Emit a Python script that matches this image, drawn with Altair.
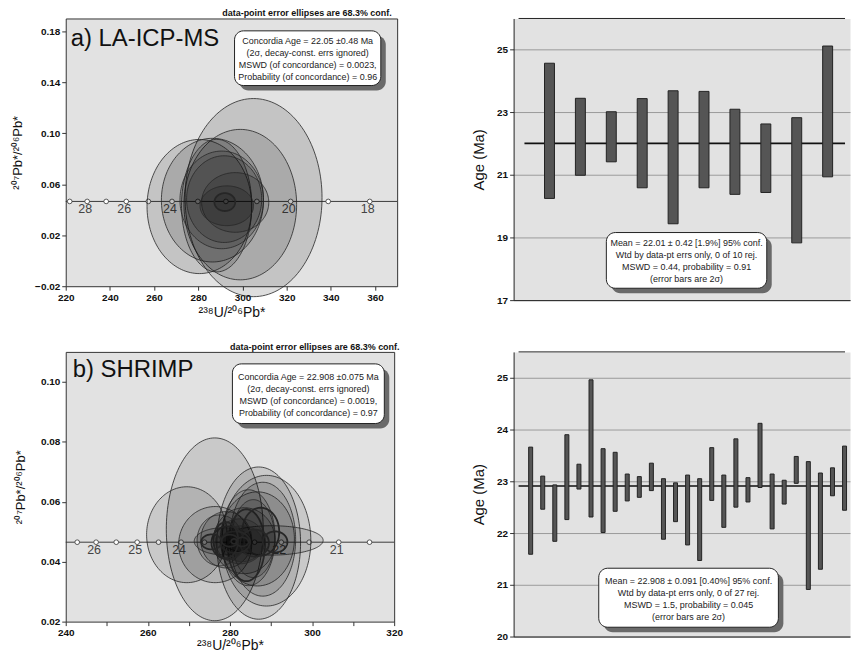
import altair as alt
import pandas as pd

FONT = "Liberation Sans"
BG = "#e2e2e2"

# ---------------- (a) LA-ICP-MS : error ellipses (centre, semi-axes) ----------------
a_cx = [305.0, 299.0, 280.5, 286.4, 288.3, 290.6, 291.7, 296.7, 292.9, 292.0]
a_cy = [0.0495, 0.0440, 0.0425, 0.0475, 0.0432, 0.0477, 0.0483, 0.0457, 0.0431, 0.0460]
a_rx = [31.0, 25.5, 23.7, 23.1, 15.9, 18.9, 17.0, 15.2, 12.1, 4.7]
a_ry = [0.0777, 0.0590, 0.0526, 0.0485, 0.0520, 0.0383, 0.0340, 0.0234, 0.0156, 0.0070]

# concordia age markers (Ma) and their 238U/206Pb positions
conc_y = 0.0465
a_ages = [29, 28, 27, 26, 25, 24, 23, 22, 21, 20, 19, 18]
a_age_x = [221.8, 229.7, 238.3, 247.4, 257.4, 268.1, 279.8, 292.5, 306.5, 321.8, 338.8, 357.6]
a_labelled = [28, 26, 24, 20, 18]

# ---------------- (b) SHRIMP : error ellipses ----------------
b_cx = [276.3, 269.5, 287.0, 288.9, 276.4, 286.7, 290.2, 288.0, 284.5, 283.5, 279.1, 278.3, 285.7,
        284.0, 277.5, 287.5, 282.5, 283.0, 279.5, 286.0, 281.3, 291.0, 279.0, 275.5, 280.0, 283.0, 281.0]
b_cy = [0.0508, 0.0490, 0.0462, 0.0470, 0.0457, 0.0476, 0.0471, 0.0475, 0.0480, 0.0470, 0.0473, 0.0468, 0.0477,
        0.0455, 0.0471, 0.0500, 0.0468, 0.0460, 0.0463, 0.0462, 0.0465, 0.0466, 0.0472, 0.0466, 0.0470, 0.0466, 0.0468]
b_rx = [11.8, 9.8, 10.2, 10.8, 8.9, 9.0, 12.5, 8.0, 6.5, 7.5, 6.2, 7.0, 5.2,
        4.5, 5.5, 4.5, 6.0, 5.0, 4.0, 3.5, 3.6, 3.0, 3.0, 2.5, 2.0, 1.5, 0.7]
b_ry = [0.0305, 0.0160, 0.0254, 0.0218, 0.0127, 0.0157, 0.0049, 0.0190, 0.0160, 0.0110, 0.0094, 0.0045, 0.0130,
        0.0120, 0.0085, 0.0080, 0.0075, 0.0060, 0.0055, 0.0045, 0.0036, 0.0035, 0.0060, 0.0025, 0.0020, 0.0015, 0.0008]

b_ages = [26.5, 26, 25.5, 25, 24.5, 24, 23.5, 23, 22.5, 22, 21.5, 21, 20.5]
b_age_x = [242.8, 247.4, 252.3, 257.4, 262.6, 268.1, 273.8, 279.8, 286.0, 292.5, 299.3, 306.5, 314.0]
b_labelled = [26, 25, 24, 22, 21]

# ---------------- weighted-mean age bars (2 sigma) ----------------
ar_lo = [20.25, 20.99, 21.42, 20.59, 19.44, 20.59, 20.38, 20.44, 18.83, 20.94]
ar_hi = [24.57, 23.45, 23.02, 23.44, 23.69, 23.67, 23.10, 22.63, 22.83, 25.12]
ar_mean = 22.01

br_lo = [21.59, 22.46, 21.84, 22.26, 22.85, 22.31, 22.01, 22.42, 22.62, 22.69, 22.82, 21.88, 22.22, 21.77,
         21.47, 22.63, 22.11, 22.50, 22.60, 22.88, 22.08, 22.56, 22.96, 20.91, 21.30, 22.72, 22.44]
br_hi = [23.66, 23.10, 22.93, 23.90, 23.33, 24.96, 23.63, 23.56, 23.14, 23.09, 23.35, 23.05, 22.97, 23.12,
         23.05, 23.65, 23.12, 23.82, 23.07, 24.12, 23.14, 23.02, 23.48, 23.38, 23.16, 23.26, 23.68]
br_mean = 22.908

# ---------------- texts ----------------
ell_note = "data-point error ellipses are 68.3% conf."
a_title = "a) LA-ICP-MS"
b_title = "b) SHRIMP"
box_a = ["Concordia Age = 22.05 \u00b10.48 Ma", "(2\u03c3, decay-const. errs ignored)",
         "MSWD (of concordance) = 0.0023,", "Probability (of concordance) = 0.96"]
box_b = ["Concordia Age = 22.908 \u00b10.075 Ma", "(2\u03c3, decay-const. errs ignored)",
         "MSWD (of concordance) = 0.0019,", "Probability (of concordance) = 0.97"]
box_ar = ["Mean = 22.01 \u00b1 0.42  [1.9%]  95% conf.", "Wtd by data-pt errs only, 0 of 10 rej.",
          "MSWD = 0.44, probability = 0.91", "(error bars are 2\u03c3)"]
box_br = ["Mean = 22.908 \u00b1 0.091  [0.40%]  95% conf.", "Wtd by data-pt errs only, 0 of 27 rej.",
          "MSWD = 1.5, probability = 0.045", "(error bars are 2\u03c3)"]
# text-box corners (data coordinates of each panel)
box_a_xy = [296.4, 362.6, 0.1803, 0.1374]
box_b_xy = [280.6, 317.6, 0.1060, 0.0861]
box_ar_xy = [2.84, 8.03, 19.16, 17.38]
box_br_xy = [6.64, 21.52, 21.32, 20.18]

ytitle_iso = "\u00b2\u2070\u2077Pb*/\u00b2\u2070\u2076Pb*"
xtitle_iso = "\u00b2\u00b3\u2078U/\u00b2\u2070\u2076Pb*"
age_title = "Age (Ma)"

# panel sizes (px)
W_L, H_A, H_B = 333, 269, 271
W_R, H_AR, H_BR = 338, 283, 286

# axis ranges and tick values
a_xdom, a_ydom = [220, 370], [-0.02, 0.19]
b_xdom, b_ydom = [240, 320], [0.02, 0.11]
ar_xdom, ar_ydom = [0, W_R / 32], [17, 26]
br_xdom, br_ydom = [0, W_R / 12.5], [20, 25.5]
a_x_major = [220, 240, 260, 280, 300, 320, 340, 360]
a_x_minor = [230, 250, 270, 290, 310, 330, 350]
a_y_major = [-0.02, 0.02, 0.06, 0.1, 0.14, 0.18]
a_y_minor = [-0.01, 0.0, 0.01, 0.03, 0.04, 0.05, 0.07, 0.08, 0.09, 0.11, 0.12, 0.13, 0.15, 0.16, 0.17]
b_x_major = [240, 260, 280, 300, 320]
b_x_minor = [250, 270, 290, 310]
b_y_major = [0.02, 0.04, 0.06, 0.08, 0.1]
b_y_minor = [0.03, 0.05, 0.07, 0.09]
ar_y_major = [17, 19, 21, 23, 25]
ar_y_minor = [18, 20, 22, 24]
br_y_major = [20, 21, 22, 23, 24, 25]
br_y_minor = [20.5, 21.5, 22.5, 23.5, 24.5]


def sc(dom):
    return alt.Scale(domain=dom, nice=False, zero=False)


def mk_axis(major, minor, fmt, title, grid=False, **extra):
    vals = sorted(set(major) | set(minor))
    arr = "[" + ",".join(repr(v) for v in major) + "]"
    test = f"indexof({arr}, round(datum.value * 1000) / 1000) >= 0"
    kw = dict(values=vals, labelExpr=f"{test} ? format(datum.value, '{fmt}') : ''",
              tickSize=4, title=title, grid=grid)
    if grid:
        kw["gridOpacity"] = {"condition": {"test": test, "value": 1}, "value": 0}
        kw["gridColor"] = "#9a9a9a"
    kw.update(extra)
    return alt.Axis(**kw)


def frame_layer(xdom, ydom_val, xaxis, yaxis, ydom, color, width):
    """rule across the plot (carries both axes of the panel)"""
    df = pd.DataFrame({"x1": [xdom[0]], "x2": [xdom[1]], "y": [ydom_val]})
    return alt.Chart(df).mark_rule(color=color, strokeWidth=width).encode(
        x=alt.X("x1:Q", scale=sc(xdom), axis=xaxis), x2="x2:Q",
        y=alt.Y("y:Q", scale=sc(ydom), axis=yaxis))


def ellipse_layer(cx, cy, rx, ry, op):
    df = pd.DataFrame({"id": list(range(len(cx))), "cx": cx, "cy": cy, "rx": rx, "ry": ry})
    return (
        alt.Chart(df)
        .transform_calculate(k="sequence(0, 73)")
        .transform_flatten(["k"])
        .transform_calculate(t="PI * datum.k / 72")
        .transform_calculate(
            ex="datum.cx - datum.rx * cos(datum.t)",
            ey1="datum.cy + datum.ry * sin(datum.t)",
            ey2="datum.cy - datum.ry * sin(datum.t)",
        )
        .mark_area(orient="vertical", fill="#000", fillOpacity=op, stroke="#262626")
        .encode(
            x="ex:Q",
            y=alt.Y("ey1:Q", stack=False),
            y2="ey2:Q",
            detail="id:N",
            strokeWidth=alt.condition("datum.rx < 5", alt.value(1.8), alt.value(0.8)),
        )
    )


def conc_layers(ages, xs, labelled):
    df = pd.DataFrame({"age": ages, "x": xs, "y": [conc_y] * len(ages)})
    pts = alt.Chart(df).mark_point(shape="circle", filled=True, fill="white", stroke="#333",
                                   strokeWidth=0.8, size=22, opacity=1).encode(x="x:Q", y="y:Q")
    lab = (alt.Chart(df)
           .transform_filter(alt.FieldOneOfPredicate(field="age", oneOf=labelled))
           .transform_calculate(lbl="format(datum.age, 'd')")
           .mark_text(fontSize=12.5, color="#444", dy=8, dx=-2, baseline="middle")
           .encode(x="x:Q", y="y:Q", text="lbl:N"))
    return [pts, lab]


def box_layers(xy, lines):
    df = pd.DataFrame({"x1": [xy[0]], "x2": [xy[1]], "y1": [xy[2]], "y2": [xy[3]],
                       "xc": [(xy[0] + xy[1]) / 2], "yc": [(xy[2] + xy[3]) / 2], "txt": [lines]})
    shadow = alt.Chart(df).mark_rect(cornerRadius=9, fill="#6a6a6a", xOffset=5, x2Offset=5,
                                     yOffset=5, y2Offset=5).encode(x="x1:Q", x2="x2:Q", y="y1:Q", y2="y2:Q")
    box = alt.Chart(df).mark_rect(cornerRadius=9, fill="white", stroke="#222", strokeWidth=1).encode(
        x="x1:Q", x2="x2:Q", y="y1:Q", y2="y2:Q")
    txt = alt.Chart(df).mark_text(fontSize=9, lineHeight=12, baseline="middle", align="center",
                                  color="#222", dy=-17).encode(x="xc:Q", y="yc:Q", text="txt:N")
    return [shadow, box, txt]


def title_layer(x, y, text, dx, dy):
    df = pd.DataFrame({"x": [x], "y": [y], "t": [text]})
    return alt.Chart(df).mark_text(fontSize=24, align="left", baseline="alphabetic", dx=dx, dy=dy,
                                   color="#111").encode(x="x:Q", y="y:Q", text="t:N")


def note_title(dx):
    return alt.TitleParams(ell_note, anchor="end", fontSize=9, fontWeight="bold", offset=0, dx=dx,
                           color="#111", font=FONT)


frame_view = alt.ViewBackground(fill=BG, stroke="#333", strokeWidth=1)
open_view = alt.ViewBackground(fill=BG, stroke="transparent")

# ---------------- panel a ----------------
pa = alt.layer(
    frame_layer(a_xdom, conc_y,
                mk_axis(a_x_major, a_x_minor, "d", xtitle_iso, domain=False, titleFontSize=14, titlePadding=3),
                mk_axis(a_y_major, a_y_minor, ".2f", ytitle_iso, domain=False, titleFontSize=13, titlePadding=10),
                a_ydom, "#3a3a3a", 1),
    *conc_layers(a_ages, a_age_x, a_labelled),
    ellipse_layer(a_cx, a_cy, a_rx, a_ry, 0.13),
    *box_layers(box_a_xy, box_a),
    title_layer(a_xdom[0], a_ydom[1], a_title, 5, 28),
).properties(width=W_L, height=H_A, view=frame_view, title=note_title(-6))

# ---------------- panel a, age bars ----------------
par_bars = pd.DataFrame({"i": list(range(1, len(ar_lo) + 1)), "lo": ar_lo, "hi": ar_hi})
par = alt.layer(
    frame_layer(ar_xdom, ar_ydom[1],
                alt.Axis(labels=False, ticks=False, grid=False, title=None, domain=True),
                mk_axis(ar_y_major, ar_y_minor, "d", age_title, grid=True, domain=True,
                        titleFontSize=15, titlePadding=10),
                ar_ydom, "#222", 1),
    alt.Chart(pd.DataFrame({"x1": [0.19], "x2": [ar_xdom[1]], "m": [ar_mean]})).mark_rule(
        color="#111", strokeWidth=1.6).encode(x="x1:Q", x2="x2:Q", y="m:Q"),
    alt.Chart(par_bars).mark_bar(size=10, fill="#555", stroke="#222", strokeWidth=1).encode(
        x="i:Q", y="lo:Q", y2="hi:Q"),
    *box_layers(box_ar_xy, box_ar),
).properties(width=W_R, height=H_AR, view=open_view)

# ---------------- panel b ----------------
pb = alt.layer(
    frame_layer(b_xdom, conc_y,
                mk_axis(b_x_major, b_x_minor, "d", xtitle_iso, domain=False, titleFontSize=14, titlePadding=1),
                mk_axis(b_y_major, b_y_minor, ".2f", ytitle_iso, domain=False, titleFontSize=13, titlePadding=13),
                b_ydom, "#3a3a3a", 1),
    *conc_layers(b_ages, b_age_x, b_labelled),
    ellipse_layer(b_cx, b_cy, b_rx, b_ry, 0.11),
    *box_layers(box_b_xy, box_b),
    title_layer(b_xdom[0], b_ydom[1], b_title, 7, 25),
).properties(width=330, height=H_B, view=frame_view, title=note_title(-3))

# ---------------- panel b, age bars ----------------
pbr_bars = pd.DataFrame({"i": list(range(1, len(br_lo) + 1)), "lo": br_lo, "hi": br_hi})
pbr = alt.layer(
    frame_layer(br_xdom, br_ydom[1],
                alt.Axis(labels=False, ticks=False, grid=False, title=None, domain=True),
                mk_axis(br_y_major, br_y_minor, "d", age_title, grid=True, domain=True,
                        titleFontSize=15, titlePadding=10),
                br_ydom, "#222", 1),
    alt.Chart(pd.DataFrame({"x1": [0.0], "x2": [br_xdom[1]], "m": [br_mean]})).mark_rule(
        color="#111", strokeWidth=1.6).encode(x="x1:Q", x2="x2:Q", y="m:Q"),
    alt.Chart(pbr_bars).mark_bar(size=4, fill="#555", stroke="#222", strokeWidth=1).encode(
        x="i:Q", y="lo:Q", y2="hi:Q"),
    *box_layers(box_br_xy, box_br),
).properties(width=W_R, height=H_BR, view=open_view)

chart = (
    alt.concat(pa, par, pb, pbr, columns=2, spacing={"row": 52, "column": 117}, bounds="flush")
    .properties(padding={"left": 3, "top": -1, "right": 0, "bottom": -3}, background="white")
    .configure(font=FONT)
    .configure_view(stroke="transparent")
    .configure_axis(labelFont=FONT, labelFontSize=10, labelFontWeight="bold", labelColor="#111",
                    titleFont=FONT, titleFontWeight="normal", titleColor="#111", tickColor="#333",
                    domainColor="#222", labelFlush=False, labelOverlap=False, labelPadding=2, grid=False)
)

chart.save("out.html", embed_options={"renderer": "svg", "actions": False})
